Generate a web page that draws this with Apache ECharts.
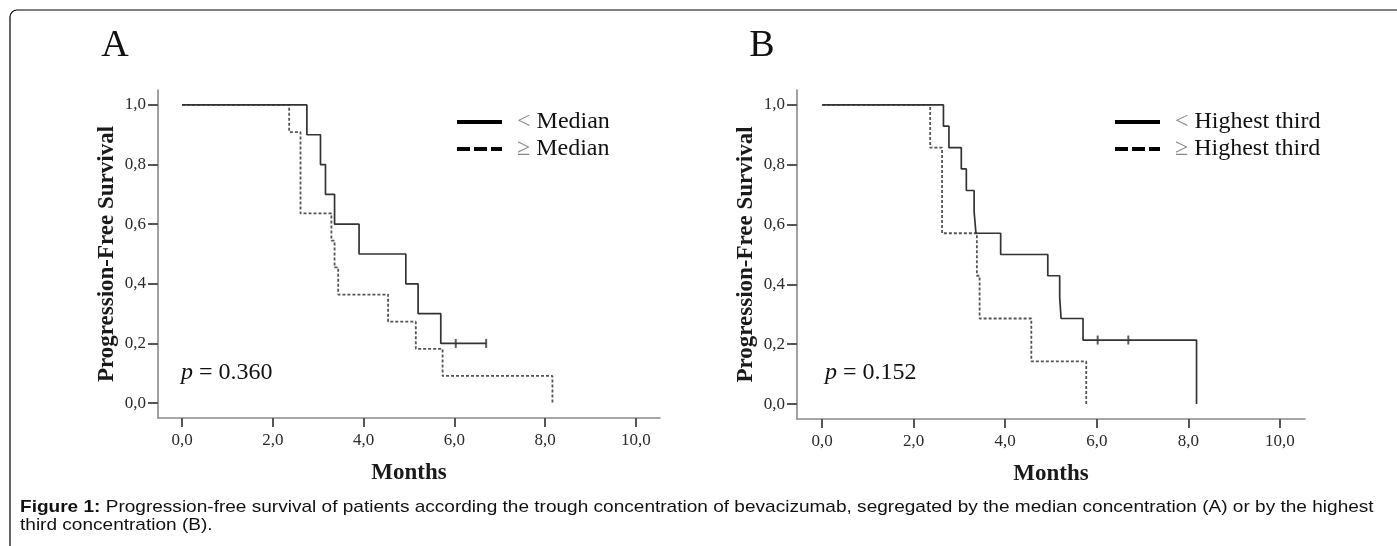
<!DOCTYPE html>
<html>
<head>
<meta charset="utf-8">
<script src="https://cdn.jsdelivr.net/npm/echarts@6/dist/echarts.min.js"></script>
<style>
html,body{margin:0;padding:0;background:#fff;}
#chart{width:1397px;height:546px;}
</style>
</head>
<body>
<div id="chart"></div>
<script>
// ---------- data ----------
const xTicks = [0, 2, 4, 6, 8, 10];
const yTicks = [0, 0.2, 0.4, 0.6, 0.8, 1.0];

// Panel A: < Median (solid)
const aBelowTime = [0, 2.75, 3.05, 3.16, 3.36, 3.90, 4.93, 5.20, 5.70, 6.70];
const aBelowSurv = [1.0, 0.9, 0.8, 0.7, 0.6, 0.5, 0.4, 0.3, 0.2, 0.2];
const aBelowCensorTime = [6.03, 6.70];
const aBelowCensorSurv = [0.2, 0.2];
// Panel A: >= Median (dashed)
const aAboveTime = [0, 2.36, 2.61, 3.29, 3.36, 3.44, 4.54, 5.15, 5.74, 8.16];
const aAboveSurv = [1.0, 0.909, 0.636, 0.545, 0.455, 0.364, 0.273, 0.182, 0.091, 0.0];

// Panel B: < Highest third (solid)
const bBelowTime = [0, 2.65, 2.77, 3.04, 3.15, 3.32, 3.36, 3.90, 4.93, 5.19, 5.22, 5.70, 8.18];
const bBelowSurv = [1.0, 0.929, 0.857, 0.786, 0.714, 0.643, 0.571, 0.5, 0.429, 0.357, 0.286, 0.214, 0.0];
const bBelowCensorTime = [6.02, 6.69];
const bBelowCensorSurv = [0.214, 0.214];
// Panel B: >= Highest third (dashed)
const bAboveTime = [0, 2.36, 2.62, 3.38, 3.44, 4.57, 5.77];
const bAboveSurv = [1.0, 0.857, 0.571, 0.429, 0.286, 0.143, 0.0];

const panelLetters = ['A', 'B'];
const legendA = ['< Median', '≥ Median'];
const legendB = ['< Highest third', '≥ Highest third'];
const pValues = ['0.360', '0.152'];
const yTitle = 'Progression-Free Survival';
const xTitle = 'Months';
const captionBold = 'Figure 1:';
const captionLine1 = ' Progression-free survival of patients according the trough concentration of bevacizumab, segregated by the median concentration (A) or by the highest';
const captionLine2 = 'third concentration (B).';

// ---------- helpers ----------
const zip = (t, s) => t.map((v, i) => [v, s[i]]);
const fmt = v => v.toFixed(1).replace('.', ',');
const SERIF = '"Liberation Serif","Times New Roman",serif';
const SANS = '"Liberation Sans", Arial, sans-serif';
const AXIS_COLOR = '#8a8a8a';
const SOLID = '#333333';
const DASHED = '#555555';

function xAxisDef(gi, min, max) {
  return {
    type: 'value', gridIndex: gi, min: min, max: max,
    splitLine: { show: false },
    axisLine: { show: true, onZero: false, lineStyle: { color: AXIS_COLOR, width: 1.6 } },
    axisTick: { show: true, customValues: xTicks, length: 9, lineStyle: { color: '#555', width: 2 } },
    axisLabel: { customValues: xTicks, formatter: fmt, color: '#2a2a2a', fontFamily: SERIF, fontSize: 17, margin: 14 },
    name: xTitle, nameLocation: 'middle', nameGap: 44,
    nameTextStyle: { fontFamily: SERIF, fontWeight: 'bold', fontSize: 23, color: '#1a1a1a' }
  };
}
function yAxisDef(gi) {
  return {
    type: 'value', gridIndex: gi, min: -0.05, max: 1.05,
    splitLine: { show: false },
    axisLine: { show: true, onZero: false, lineStyle: { color: AXIS_COLOR, width: 1.6 } },
    axisTick: { show: true, customValues: yTicks, length: 10, lineStyle: { color: '#555', width: 2 } },
    axisLabel: { customValues: yTicks, formatter: fmt, color: '#2a2a2a', fontFamily: SERIF, fontSize: 17, margin: 12 },
    name: yTitle, nameLocation: 'middle', nameGap: 39, nameRotate: 90,
    nameTextStyle: { fontFamily: SERIF, fontWeight: 'bold', fontSize: 23, color: '#1a1a1a' }
  };
}
function kmLine(idx, data, dashed) {
  return {
    type: 'line', xAxisIndex: idx, yAxisIndex: idx, data: data, step: 'end',
    symbol: 'none', silent: true,
    lineStyle: dashed ? { color: DASHED, width: 1.8, type: [3, 2] } : { color: SOLID, width: 1.7 }
  };
}
function censor(idx, data) {
  return {
    type: 'scatter', xAxisIndex: idx, yAxisIndex: idx, data: data,
    symbol: 'rect', symbolSize: [2, 9], itemStyle: { color: SOLID }, silent: true
  };
}
function legendGraphic(x0, textX, labels) {
  const els = [];
  const rows = [122, 149];
  rows.forEach((y, i) => {
    els.push({
      type: 'line', shape: { x1: x0, y1: y, x2: x0 + 45, y2: y },
      style: { stroke: '#000', lineWidth: 4, lineDash: i === 1 ? [13, 4] : null }
    });
    const sym = labels[i].charAt(0);
    const rest = labels[i].slice(1);
    els.push({
      type: 'text', x: textX, y: y,
      style: {
        text: '{g|' + sym + '}' + rest,
        verticalAlign: 'middle', align: 'left',
        font: '24px ' + SERIF, fill: '#111',
        rich: { g: { fill: '#888', font: '24px ' + SERIF } }
      }
    });
  });
  return els;
}
function pText(x, val) {
  return {
    type: 'text', x: x, y: 373,
    style: {
      text: '{i|p} = ' + val, verticalAlign: 'middle', align: 'left',
      font: '24px ' + SERIF, fill: '#111',
      rich: { i: { font: 'italic 24px ' + SERIF, fill: '#111' } }
    }
  };
}

const chart = echarts.init(document.getElementById('chart'), null, { renderer: 'canvas' });
chart.setOption({
  backgroundColor: '#fff',
  animation: false,
  grid: [
    { left: 158, top: 90, width: 502, height: 328 },
    { left: 797, top: 90, width: 508, height: 329 }
  ],
  xAxis: [xAxisDef(0, -0.53, 10.53), xAxisDef(1, -0.55, 10.55)],
  yAxis: [yAxisDef(0), yAxisDef(1)],
  series: [
    kmLine(0, zip(aAboveTime, aAboveSurv), true),
    kmLine(0, zip(aBelowTime, aBelowSurv), false),
    censor(0, zip(aBelowCensorTime, aBelowCensorSurv)),
    kmLine(1, zip(bAboveTime, bAboveSurv), true),
    kmLine(1, zip(bBelowTime, bBelowSurv), false),
    censor(1, zip(bBelowCensorTime, bBelowCensorSurv))
  ],
  graphic: [
    {
      type: 'rect', shape: { x: 10, y: 10, width: 1500, height: 700, r: [7, 0, 0, 0] },
      style: { fill: 'none', stroke: '#000', lineWidth: 1.2 }, silent: true
    },
    { type: 'text', x: 115, y: 46, style: { text: panelLetters[0], align: 'center', verticalAlign: 'middle', font: '38px ' + SERIF, fill: '#111' } },
    { type: 'text', x: 762, y: 46, style: { text: panelLetters[1], align: 'center', verticalAlign: 'middle', font: '38px ' + SERIF, fill: '#111' } },
    ...legendGraphic(457, 517, legendA),
    ...legendGraphic(1115, 1175, legendB),
    pText(181, pValues[0]),
    pText(825, pValues[1]),
    {
      type: 'text', x: 20, y: 507, scaleX: 1.12,
      style: {
        text: '{b|' + captionBold + '}' + captionLine1,
        verticalAlign: 'middle', align: 'left',
        font: '17px ' + SANS, fill: '#111',
        rich: { b: { font: 'bold 17px ' + SANS, fill: '#111' } }
      }
    },
    {
      type: 'text', x: 20, y: 525, scaleX: 1.12,
      style: { text: captionLine2, verticalAlign: 'middle', align: 'left', font: '17px ' + SANS, fill: '#111' }
    }
  ]
});
</script>
</body>
</html>
